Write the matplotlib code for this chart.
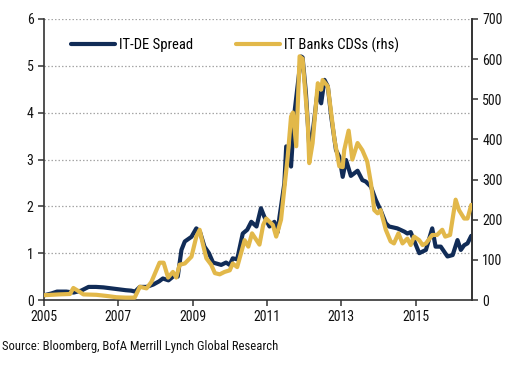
import matplotlib
matplotlib.use("Agg")
import matplotlib.pyplot as plt

plt.rcParams['font.family'] = ['Roboto Condensed', 'DejaVu Sans']

# IT-DE spread (pct, left axis)
spread_t = [2005.0, 2005.2, 2005.35, 2005.6, 2005.8, 2006.0, 2006.2, 2006.4, 2006.6, 2006.8,
            2007.0, 2007.2, 2007.35, 2007.45, 2007.58, 2007.76, 2007.94, 2008.1, 2008.2, 2008.35,
            2008.52, 2008.6, 2008.7, 2008.79, 2008.97, 2009.1, 2009.2, 2009.32, 2009.44, 2009.55,
            2009.77, 2009.9, 2010.0, 2010.08, 2010.2, 2010.35, 2010.47, 2010.58, 2010.72, 2010.84,
            2010.93, 2011.07, 2011.2, 2011.29, 2011.34, 2011.47, 2011.52, 2011.65, 2011.74, 2011.92,
            2011.96, 2012.05, 2012.14, 2012.23, 2012.37, 2012.46, 2012.55, 2012.64, 2012.73, 2012.86,
            2012.95, 2013.04, 2013.13, 2013.26, 2013.44, 2013.57, 2013.66, 2013.8, 2013.93, 2014.06,
            2014.2, 2014.29, 2014.51, 2014.7, 2014.78, 2014.87, 2015.1, 2015.28, 2015.45, 2015.54,
            2015.68, 2015.86, 2016.0, 2016.13, 2016.22, 2016.31, 2016.4, 2016.5]
spread_v = [0.10, 0.14, 0.18, 0.18, 0.16, 0.20, 0.28, 0.28, 0.27, 0.25,
            0.23, 0.21, 0.20, 0.18, 0.28, 0.28, 0.33, 0.40, 0.46, 0.42,
            0.53, 0.50, 1.07, 1.25, 1.35, 1.53, 1.45, 1.14, 1.00, 0.80,
            0.75, 0.80, 0.75, 0.89, 0.87, 1.42, 1.50, 1.67, 1.57, 1.96,
            1.78, 1.57, 1.67, 1.45, 1.78, 2.49, 3.28, 2.85, 3.99, 5.20,
            5.18, 4.42, 3.28, 3.56, 4.49, 4.20, 4.70, 4.56, 3.92, 3.20,
            3.06, 2.63, 2.99, 2.65, 2.76, 2.56, 2.53, 2.42, 2.14, 1.92,
            1.64, 1.57, 1.53, 1.46, 1.42, 1.45, 1.00, 1.07, 1.53, 1.14,
            1.14, 0.93, 0.96, 1.28, 1.07, 1.17, 1.21, 1.37]

# IT banks CDS (bp, right axis)
cds_t = [2005.0, 2005.4, 2005.7, 2005.79, 2005.95, 2006.06, 2006.41, 2006.7, 2006.95, 2007.2,
         2007.44, 2007.58, 2007.76, 2007.89, 2008.11, 2008.22, 2008.34, 2008.47, 2008.56, 2008.65,
         2008.79, 2008.97, 2009.1, 2009.19, 2009.28, 2009.37, 2009.5, 2009.6, 2009.73, 2009.86,
         2010.0, 2010.08, 2010.2, 2010.4, 2010.5, 2010.6, 2010.7, 2010.8, 2010.9, 2010.98,
         2011.16, 2011.25, 2011.38, 2011.56, 2011.65, 2011.7, 2011.79, 2011.88, 2011.96, 2012.1,
         2012.14, 2012.23, 2012.37, 2012.46, 2012.5, 2012.64, 2012.82, 2012.95, 2013.04, 2013.08,
         2013.2, 2013.3, 2013.44, 2013.57, 2013.7, 2013.8, 2013.89, 2013.98, 2014.06, 2014.2,
         2014.33, 2014.42, 2014.54, 2014.65, 2014.78, 2014.87, 2014.96, 2015.1, 2015.19, 2015.28,
         2015.45, 2015.58, 2015.72, 2015.8, 2015.93, 2016.08, 2016.17, 2016.31, 2016.4, 2016.5]
cds_v = [12, 14, 15, 30, 21, 14, 13, 10, 7, 6,
         6, 33, 29, 45, 93, 93, 56, 70, 56, 88,
         91, 108, 158, 175, 138, 104, 88, 67, 64, 70,
         74, 91, 82, 149, 133, 166, 152, 138, 187, 203,
         187, 158, 200, 357, 457, 467, 383, 607, 601, 441,
         341, 391, 540, 524, 548, 532, 399, 333, 331, 373,
         422, 350, 391, 373, 345, 291, 224, 216, 224, 175,
         146, 141, 166, 141, 153, 137, 158, 149, 137, 141,
         162, 162, 175, 158, 162, 250, 224, 203, 203, 237]

year_ticks = [2005, 2007, 2009, 2011, 2013, 2015]
left_ticks = [0, 1, 2, 3, 4, 5, 6]
right_ticks = [0, 100, 200, 300, 400, 500, 600, 700]

NAVY = "#112C57"
GOLD = "#E2B84A"
SPINE = "#333333"

fig = plt.figure(figsize=(5.08, 3.65), dpi=100)
ax = fig.add_axes([0.0866, 0.178, 0.8425, 0.770])
ax2 = ax.twinx()

ax.set_xlim(2005, 2016.52)
ax.set_ylim(0, 6)
ax2.set_ylim(0, 700)

for y in left_ticks[1:]:
    ax.axhline(y, color="#A6A6A6", lw=0.9, ls=(0, (1.2, 1.6)), zorder=0)

l1, = ax.plot(spread_t, spread_v, color=NAVY, lw=3.0, solid_joinstyle="round",
              solid_capstyle="round", label="IT-DE Spread", zorder=2)
l2, = ax2.plot(cds_t, cds_v, color=GOLD, lw=3.0, solid_joinstyle="round",
               solid_capstyle="round", label="IT Banks CDSs (rhs)", zorder=3)

ax.set_xticks(year_ticks)
ax.set_xticklabels([str(y) for y in year_ticks])
ax.set_yticks(left_ticks)
ax2.set_yticks(right_ticks)

for a in (ax, ax2):
    a.spines["top"].set_visible(False)
    for s in ("left", "right", "bottom"):
        a.spines[s].set_color(SPINE)
        a.spines[s].set_linewidth(1.2)
    a.tick_params(direction="out", length=4, width=1.1, color=SPINE,
                  labelsize=10, labelcolor="#111111", pad=3.5)
ax2.spines["left"].set_visible(False)
ax2.spines["bottom"].set_visible(False)

ax.legend([l1, l2], ["IT-DE Spread", "IT Banks CDSs (rhs)"], ncol=2, frameon=False,
          loc="upper left", bbox_to_anchor=(0.05, 0.955), handlelength=3.0,
          handletextpad=0.25, columnspacing=3.0, fontsize=10.5, borderaxespad=0)

fig.text(0.004, 0.033, "Source: Bloomberg, BofA Merrill Lynch Global Research",
         fontsize=9.1, color="#111111", ha="left", va="bottom")

fig.savefig("out.png", dpi=100)
